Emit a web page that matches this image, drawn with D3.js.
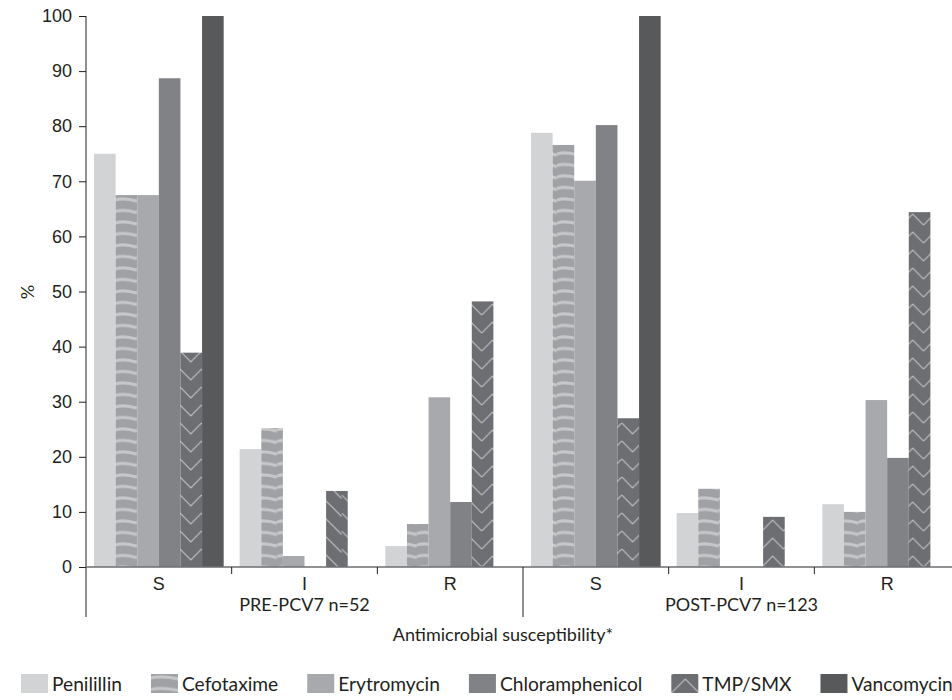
<!DOCTYPE html>
<html lang="en">
<head>
  <meta charset="UTF-8">
  <title>Antimicrobial susceptibility</title>
  <script src="https://d3js.org/d3.v7.min.js"></script>
  <style>
    body { margin: 0; background: #fff; }
    svg { display: block; font-family: Lato, "Open Sans", sans-serif; }
    text { fill: #231f20; }
  </style>
</head>
<body>
  <svg id="chart" width="952" height="700"></svg>
  <script>
    // data
    const periods = ["PRE-PCV7 n=52", "POST-PCV7 n=123"];
    const levels = ["S", "I", "R"];
    const drugs = ["Penilillin", "Cefotaxime", "Erytromycin", "Chloramphenicol", "TMP/SMX", "Vancomycin"];

    const penicillin      = [75.0, 21.4, 3.8, 78.8, 9.8, 11.4];
    const cefotaxime      = [67.5, 25.2, 7.8, 76.6, 14.2, 10.0];
    const erythromycin    = [67.5, 2.0, 30.8, 70.1, 0, 30.3];
    const chloramphenicol = [88.7, 0, 11.8, 80.2, 0, 19.8];
    const tmpSmx          = [38.9, 13.8, 48.2, 27.0, 9.1, 64.4];
    const vancomycin      = [100, 0, 0, 100, 0, 0];

    const yTicks = [0, 10, 20, 30, 40, 50, 60, 70, 80, 90, 100];

    const series = [penicillin, cefotaxime, erythromycin, chloramphenicol, tmpSmx, vancomycin];
    const fills = ["#d1d3d4", "#a0a1a4", "#a7a9ac", "#808285", "#6d6e71", "#58595b"];
    // how the zigzag happens to fall in each TMP/SMX bar
    const zigzag = ["down", "diag", "up", "down", "up", "up"];

    const svg = d3.select("#chart");
    const defs = svg.append("defs");

    const cats = [];
    periods.forEach((p, pi) => levels.forEach(l => cats.push({ key: pi + "-" + l, period: pi, level: l })));

    const x0 = d3.scaleBand().domain(cats.map(c => c.key)).range([86, 960]);
    const x1 = d3.scaleBand().domain(drugs).range([8, x0.step() - 8]);
    const y = d3.scaleLinear().domain([0, 100]).range([567, 16]);
    const bw = x1.bandwidth();

    // pattern helpers
    function stripePattern(id, px, py, w) {
      const h = 11.5;
      const p = defs.append("pattern").attr("id", id)
        .attr("patternUnits", "userSpaceOnUse")
        .attr("x", px).attr("y", py).attr("width", w).attr("height", h);
      p.append("rect").attr("width", w).attr("height", h).attr("fill", fills[1]);
      [0, h].forEach(o => p.append("path")
        .attr("d", `M0,${o + 1} Q${w * 0.4},${o - 1.8} ${w},${o + 2.2}`)
        .attr("fill", "none").attr("stroke", "#c6c7c9").attr("stroke-width", 3));
    }
    function zigPattern(id, px, py, w, kind) {
      const h = 18;
      const p = defs.append("pattern").attr("id", id)
        .attr("patternUnits", "userSpaceOnUse")
        .attr("x", px).attr("y", py).attr("width", w).attr("height", h);
      p.append("rect").attr("width", w).attr("height", h).attr("fill", fills[4]);
      let d;
      if (kind === "down") d = `M0,0 L${w / 2},${w / 2} L${w},0 M0,${h} L${w / 2},${h + w / 2} L${w},${h} M0,${-h} L${w / 2},${w / 2 - h} L${w},${-h}`;
      else if (kind === "up") d = `M0,${h} L${w / 2},${h - w / 2} L${w},${h} M0,0 L${w / 2},${-w / 2} L${w},0 M0,${2 * h} L${w / 2},${2 * h - w / 2} L${w},${2 * h}`;
      else d = `M0,${-h} L${w},${w - h} M0,0 L${w},${w} M0,${-2 * h} L${w},${w - 2 * h}`;
      p.append("path").attr("d", d).attr("fill", "none")
        .attr("stroke", "#bcbdbf").attr("stroke-width", 1.2);
    }

    // bars
    cats.forEach((c, ci) => {
      const g = svg.append("g").attr("transform", `translate(${x0(c.key)},0)`);
      drugs.forEach((dname, di) => {
        const v = series[di][ci];
        if (!v) return;
        const bx = x0(c.key) + x1(dname);
        let fill = fills[di];
        if (di === 1) { stripePattern("cef" + ci, bx, y(0), bw); fill = `url(#cef${ci})`; }
        if (di === 4) { zigPattern("tmp" + ci, bx, y(0), bw, zigzag[ci]); fill = `url(#tmp${ci})`; }
        g.append("rect")
          .attr("x", x1(dname))
          .attr("y", y(v))
          .attr("width", bw)
          .attr("height", y(0) - y(v))
          .attr("fill", fill);
      });
    });

    // y axis
    const yAxis = svg.append("g")
      .attr("transform", "translate(86,0)")
      .call(d3.axisLeft(y).tickValues(yTicks).tickSize(7).tickPadding(7).tickSizeOuter(0));
    yAxis.select(".domain").remove();
    yAxis.selectAll(".tick line").attr("stroke", "#231f20");
    yAxis.selectAll(".tick text").attr("font-size", 18).attr("font-family", null).attr("fill", "#231f20");
    svg.append("line").attr("x1", 86).attr("x2", 86).attr("y1", y(100)).attr("y2", 617)
      .attr("stroke", "#231f20");

    // x axis
    svg.append("line").attr("x1", 86).attr("x2", 960).attr("y1", y(0)).attr("y2", y(0))
      .attr("stroke", "#6d6e71").attr("stroke-width", 1.5);
    const xAxis = svg.append("g")
      .attr("transform", `translate(0,${y(0)})`)
      .call(d3.axisBottom(x0).tickSize(0).tickPadding(10).tickFormat(k => k.split("-")[1]));
    xAxis.select(".domain").remove();
    xAxis.selectAll(".tick text").attr("font-size", 18).attr("font-family", null).attr("fill", "#231f20");

    cats.forEach((c, ci) => {
      if (ci % 3 === 0) return;
      svg.append("line").attr("x1", x0(c.key)).attr("x2", x0(c.key))
        .attr("y1", y(0)).attr("y2", y(0) + 7).attr("stroke", "#231f20");
    });
    periods.forEach((p, pi) => {
      const first = x0(cats[pi * 3].key);
      const last = x0(cats[pi * 3 + 2].key) + x0.step();
      svg.append("line").attr("x1", last).attr("x2", last)
        .attr("y1", y(0)).attr("y2", 617).attr("stroke", "#231f20");
      svg.append("text").attr("x", (first + last) / 2).attr("y", 611)
        .attr("text-anchor", "middle").attr("font-size", 18).text(p);
    });

    svg.append("text").attr("x", 503).attr("y", 641)
      .attr("text-anchor", "middle").attr("font-size", 18)
      .text("Antimicrobial susceptibility*");

    svg.append("text")
      .attr("transform", "translate(34,292) rotate(-90)")
      .attr("text-anchor", "middle").attr("font-size", 18).text("%");

    // legend (the last entry runs off the right edge, as in the original)
    let lx = 21;
    drugs.forEach((dname, di) => {
      let fill = fills[di];
      if (di === 1) { stripePattern("cefLeg", lx, 677, 28); fill = "url(#cefLeg)"; }
      if (di === 4) { zigPattern("tmpLeg", lx, 693, 28, "up"); fill = "url(#tmpLeg)"; }
      svg.append("rect").attr("x", lx).attr("y", 674).attr("width", 27).attr("height", 19).attr("fill", fill);
      const t = svg.append("text").attr("x", lx + 31).attr("y", 691)
        .attr("font-size", 19.2).text(dname);
      lx += 31 + t.node().getComputedTextLength() + 29;
    });
  </script>
</body>
</html>
